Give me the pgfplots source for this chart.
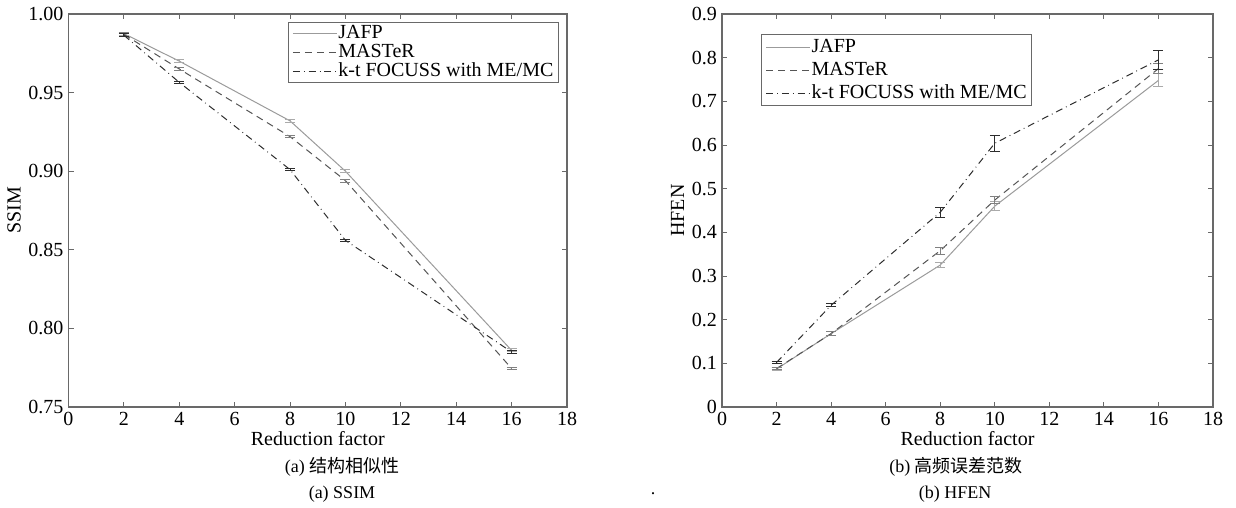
\documentclass[border=0pt]{standalone}
\usepackage{pgfplots}
\pgfplotsset{compat=1.18}
\usepackage{fontspec}
\setmainfont{Liberation Serif}
\newfontfamily\cjk{Noto Sans CJK SC}

\definecolor{axgray}{RGB}{105,105,105}
\definecolor{jafp}{RGB}{155,155,155}
\definecolor{master}{RGB}{85,85,85}
\definecolor{ktf}{RGB}{45,45,45}

\pgfplotsset{
  matlab/.style={
    scale only axis,
    anchor=south west,
    axis line style={axgray, line width=0.6pt},
    every tick/.style={axgray, line width=0.5pt},
    tick align=inside,
    major tick length=2.5pt,
    xmin=0, xmax=18, xtick={0,2,...,18},
    xticklabel={\pgfmathprintnumber[assume math mode=true]{\tick}},
    tick label style={font=\fontsize{10}{10}\selectfont},
    xticklabel style={yshift=1pt},
    yticklabel style={xshift=1pt},
    label style={font=\fontsize{10}{10}\selectfont},
    xlabel={Reduction factor},
    xlabel style={yshift=4pt},
    legend cell align=left,
    legend style={font=\fontsize{10}{11}\selectfont, draw=axgray, line width=0.6pt,
      inner xsep=2pt, inner ysep=1pt, row sep=0.5pt,
      nodes={inner xsep=0.5pt, inner ysep=0pt, text height=7pt, text depth=2pt}},
    legend image code/.code={\draw[#1] (0pt,0pt) -- (22pt,0pt);},
    error bars/y dir=both,
    error bars/y explicit,
  },
  jafpline/.style={jafp, line width=0.5pt,
    error bars/error bar style={jafp!85!white, line width=0.5pt},
    error bars/error mark options={rotate=90, mark size=2.5pt, jafp!85!white, line width=0.5pt}},
  masterline/.style={master, line width=0.5pt, dash pattern=on 3.5pt off 2.5pt,
    error bars/error bar style={gray, solid, line width=0.5pt},
    error bars/error mark options={rotate=90, mark size=2.5pt, gray, solid, line width=0.5pt}},
  ktfline/.style={ktf, line width=0.5pt, dash pattern=on 3.5pt off 2pt on 0.4pt off 2pt,
    error bars/error bar style={ktf, solid, line width=0.5pt},
    error bars/error mark options={rotate=90, mark size=2.5pt, ktf, solid, line width=0.5pt}},
}

\begin{document}
\begin{tikzpicture}
\useasboundingbox (0pt,0pt) rectangle (618pt,254pt);

% (a) structural similarity
\begin{axis}[matlab, at={(34.25pt,50.5pt)}, width=249.25pt, height=196.5pt,
  ymin=0.75, ymax=1.00, ytick={0.75,0.80,...,1.001},
  yticklabel={\pgfmathprintnumber[assume math mode=true, fixed, fixed zerofill, precision=2]{\tick}},
  ylabel={SSIM}, ylabel style={yshift=-3pt},
  legend style={at={(1,1)}, anchor=north east, xshift=-4pt, yshift=-4pt}]
\addplot[jafpline] coordinates {
  (2,0.9875) +- (0,0.0010)
  (4,0.9700) +- (0,0.0008)
  (8,0.9320) +- (0,0.0008)
  (10,0.9000) +- (0,0.0010)
  (16,0.7860) +- (0,0.0010)};
\addplot[masterline] coordinates {
  (2,0.9870) +- (0,0.0010)
  (4,0.9650) +- (0,0.0008)
  (8,0.9220) +- (0,0.0008)
  (10,0.8940) +- (0,0.0010)
  (16,0.7745) +- (0,0.0008)};
\addplot[ktfline] coordinates {
  (2,0.9865) +- (0,0.0010)
  (4,0.9565) +- (0,0.0008)
  (8,0.9010) +- (0,0.0008)
  (10,0.8560) +- (0,0.0008)
  (16,0.7850) +- (0,0.0010)};
\legend{JAFP, MASTeR, k-t FOCUSS with ME/MC}
\end{axis}

% (b) high-frequency error norm
\begin{axis}[matlab, at={(361pt,50.5pt)}, width=245.5pt, height=196.5pt,
  ymin=0, ymax=0.9, ytick={0,0.1,...,0.91},
  yticklabel={\pgfmathprintnumber[assume math mode=true, fixed, precision=1]{\tick}},
  ylabel={HFEN}, ylabel style={yshift=-3pt},
  legend style={at={(0,1)}, anchor=north west, xshift=19.5pt, yshift=-10pt,
    row sep=2.5pt, inner ysep=1.8pt}]
\addplot[jafpline] coordinates {
  (2,0.087) +- (0,0.003)
  (4,0.168) +- (0,0.004)
  (8,0.325) +- (0,0.005)
  (10,0.460) +- (0,0.010)
  (16,0.748) +- (0,0.015)};
\addplot[masterline] coordinates {
  (2,0.088) +- (0,0.003)
  (4,0.168) +- (0,0.004)
  (8,0.358) +- (0,0.008)
  (10,0.474) +- (0,0.008)
  (16,0.775) +- (0,0.012)};
\addplot[ktfline] coordinates {
  (2,0.102) +- (0,0.002)
  (4,0.233) +- (0,0.003)
  (8,0.446) +- (0,0.012)
  (10,0.604) +- (0,0.018)
  (16,0.795) +- (0,0.022)};
\legend{JAFP, MASTeR, k-t FOCUSS with ME/MC}
\end{axis}

% sub-figure captions
\node[font=\fontsize{9}{9}\selectfont] at (171pt,20.5pt) {(a) {\cjk 结构相似性}};
\node[font=\fontsize{9}{9}\selectfont] at (171pt,7pt) {(a) SSIM};
\node[font=\fontsize{9}{9}\selectfont] at (478pt,20.5pt) {(b) {\cjk 高频误差范数}};
\node[font=\fontsize{9}{9}\selectfont] at (477.5pt,7pt) {(b) HFEN};
\node[font=\fontsize{9}{9}\selectfont] at (326.5pt,7pt) {.};
\end{tikzpicture}
\end{document}
